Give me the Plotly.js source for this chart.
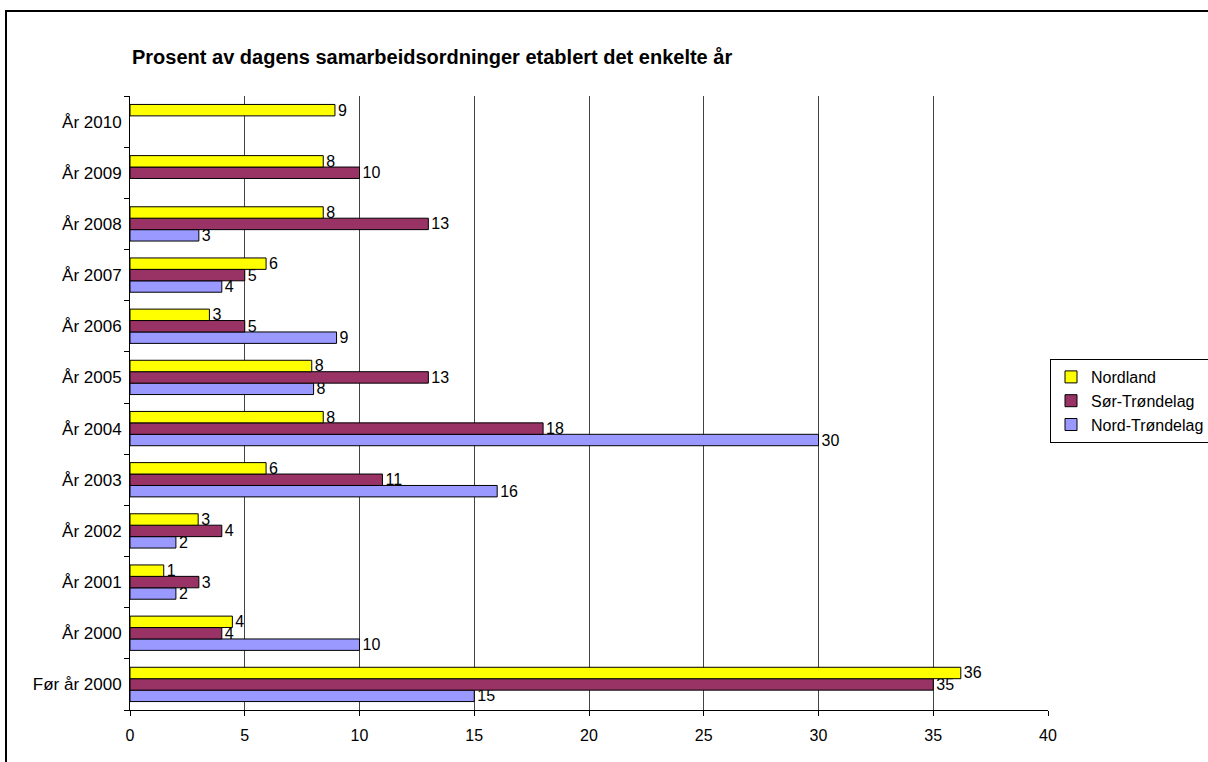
<!DOCTYPE html>
<html>
<head>
<meta charset="utf-8">
<script src="https://cdn.plot.ly/plotly-3.0.1.min.js"></script>
<style>
  html, body { margin: 0; padding: 0; overflow: hidden; background: #fff; }
  #chart { width: 1208px; height: 762px; }
  #frame { position: absolute; left: 5px; top: 10px; width: 1400px; height: 1000px;
           border: 2px solid #000; pointer-events: none; }
</style>
</head>
<body>
<div id="chart"></div>
<div id="frame"></div>
<script>
const categories = ["Før år 2000", "År 2000", "År 2001", "År 2002", "År 2003", "År 2004",
                    "År 2005", "År 2006", "År 2007", "År 2008", "År 2009", "År 2010"];
const nordland      = [36.2, 4.46, 1.47, 2.97, 5.93, 8.42, 7.92, 3.46, 5.93, 8.42, 8.42, 8.93];
const sorTrondelag  = [35.0, 4.0, 3.0, 4.0, 11.0, 18.0, 13.0, 5.0, 5.0, 13.0, 10.0, null];
const nordTrondelag = [15.0, 10.0, 2.0, 2.0, 16.0, 30.0, 8.0, 9.0, 4.0, 3.0, null, null];
const seriesNames = ["Nordland", "Sør-Trøndelag", "Nord-Trøndelag"];
const xTicks = [0, 5, 10, 15, 20, 25, 30, 35, 40];

const FONT = "Arial, 'Liberation Sans', sans-serif";

function mk(name, vals, color) {
  return {
    type: "bar", orientation: "h", name: name,
    y: categories, x: vals,
    marker: { color: color, line: { color: "#000", width: 1 } },
    text: vals.map(v => v == null ? "" : String(Math.round(v))),
    textposition: "outside",
    textfont: { family: FONT, size: 16, color: "#000" },
    constraintext: "none",
    cliponaxis: false,
    hoverinfo: "x+y"
  };
}

const data = [
  mk(seriesNames[2], nordTrondelag, "#9999FF"),
  mk(seriesNames[1], sorTrondelag, "#993366"),
  mk(seriesNames[0], nordland, "#FFFF00")
];

const layout = {
  width: 1208, height: 762,
  margin: { l: 130, r: 160, t: 96, b: 52, autoexpand: false },
  paper_bgcolor: "#fff", plot_bgcolor: "#fff",
  font: { family: FONT, size: 16, color: "#000" },
  title: {
    text: "<b>Prosent av dagens samarbeidsordninger etablert det enkelte år</b>",
    font: { family: FONT, size: 20, color: "#000" },
    xref: "container", x: 132 / 1208, xanchor: "left",
    yref: "container", y: 1 - 57 / 762, yanchor: "middle"
  },
  barmode: "group", bargap: 0.33, bargroupgap: 0,
  xaxis: {
    range: [0, 40], tickvals: xTicks, ticktext: xTicks.map(String),
    showgrid: true, gridcolor: "#444", gridwidth: 1,
    zeroline: false, showline: true, linecolor: "#000", linewidth: 1,
    ticks: "outside", ticklen: 5, tickcolor: "#000",
    tickfont: { family: FONT, size: 16, color: "#000" }, ticklabelstandoff: 6
  },
  yaxis: {
    type: "category", categoryorder: "array", categoryarray: categories,
    showgrid: false, zeroline: false, showline: true, linecolor: "#000", linewidth: 1,
    ticks: "outside", tickson: "boundaries", ticklen: 5, tickcolor: "#000",
    tickfont: { family: FONT, size: 17, color: "#000" }, ticklabelstandoff: 4
  },
  legend: {
    traceorder: "reversed",
    xref: "container", x: 1050 / 1208, xanchor: "left",
    yref: "container", y: 1 - 401 / 762, yanchor: "middle",
    bordercolor: "#000", borderwidth: 1, bgcolor: "#fff",
    font: { family: FONT, size: 16, color: "#000" },
    itemwidth: 30, tracegroupgap: 0
  },
  showlegend: true
};

Plotly.newPlot("chart", data, layout, { displayModeBar: false, staticPlot: true });
</script>
</body>
</html>
